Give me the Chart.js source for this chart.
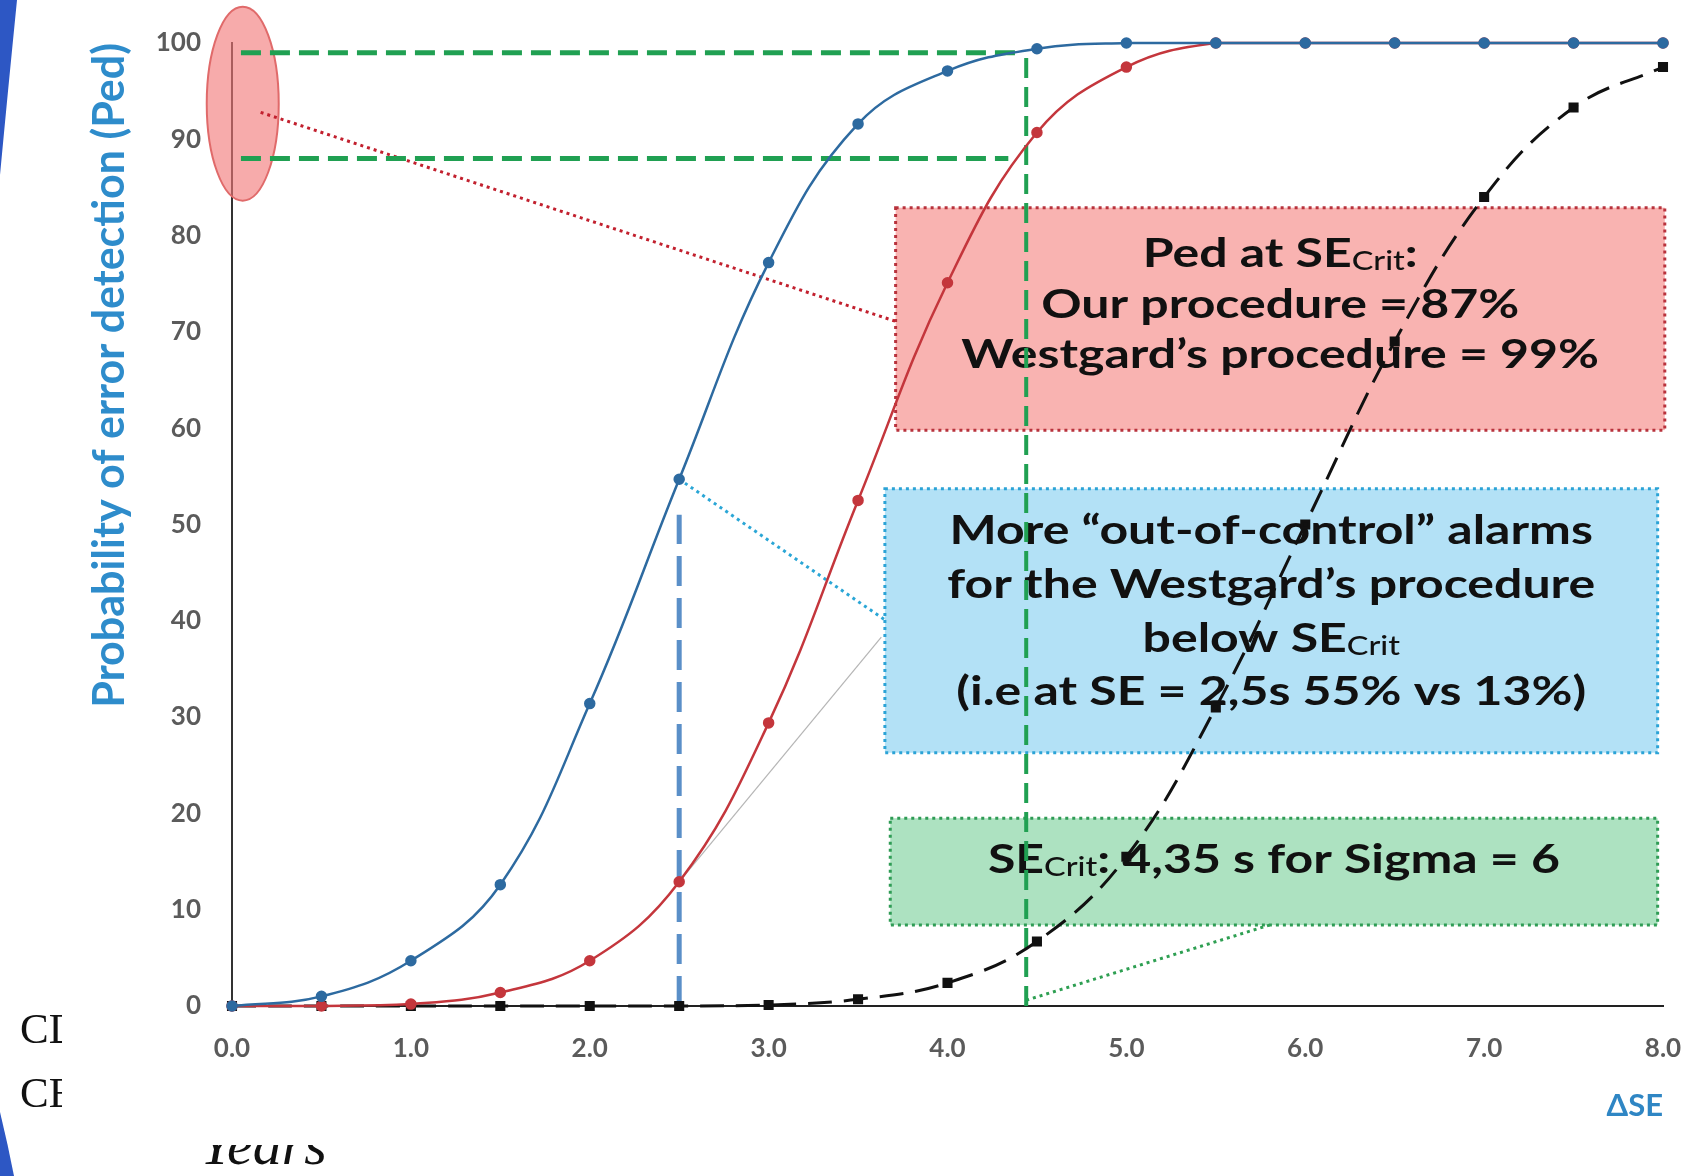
<!DOCTYPE html>
<html>
<head>
<meta charset="utf-8">
<title>Probability of error detection</title>
<script src="https://cdn.jsdelivr.net/npm/chart.js@4.4.1/dist/chart.umd.min.js"></script>
<style>
    html, body { margin: 0; padding: 0; background: #fff; }
    #pedChart { display: block; }
</style>
</head>
<body>
<canvas id="pedChart" width="1693" height="1176"></canvas>
<script>
// systematic error shift (in SD units) where each curve was computed
const shiftValues = [0, 0.5, 1.0, 1.5, 2.0, 2.5, 3.0, 3.5, 4.0, 4.5, 5.0, 5.5, 6.0, 6.5, 7.0, 7.5, 8.0];

// probability of error detection, %
const westgardPed = [0, 1.0, 4.7, 12.6, 31.4, 54.7, 77.2, 91.6, 97.1, 99.4, 100, 100, 100, 100, 100, 100, 100];
const ourPed      = [0, 0, 0.2, 1.4, 4.7, 12.9, 29.4, 52.5, 75.1, 90.7, 97.5, 100, 100, 100, 100, 100, 100];
const otherPed    = [0, 0, 0, 0, 0, 0, 0.1, 0.7, 2.4, 6.7, 15.5, 31, 50, 69, 84, 93.3, 97.5];

// guide lines at SE crit and at SE = 2.5
const critTopLine  = [[0.05, 99], [4.40, 99]];
const critLowLine  = [[0.05, 88], [4.34, 88]];
const critVertLine = [[4.44, 0], [4.44, 98.5]];
const exampleLine  = [[2.5, 0], [2.5, 51]];

// dotted pointers from the marks to the notes
const redPointer   = [[0.16, 92.8], [3.71, 71.1]];
const bluePointer  = [[2.5, 54.7], [3.65, 40.1]];
const greyPointer  = [[2.5, 12.9], [3.63, 38.3]];
const greenPointer = [[4.44, 0.6], [5.80, 8.4]];

const FONT = 'Lato';
const noteSize = 40;
const subSize = 26;
const noteStretch = 1.25;

function toPoints(xs, ys) {
    return xs.map((x, i) => ({ x: x, y: ys[i] }));
}

function toSegment(pairs) {
    return pairs.map(p => ({ x: p[0], y: p[1] }));
}

function guide(pairs, color, width, dash, order) {
    return {
        data: toSegment(pairs),
        showLine: true,
        borderColor: color,
        borderWidth: width,
        borderDash: dash,
        pointRadius: 0,
        tension: 0,
        fill: false,
        clip: false,
        order: order
    };
}

const notes = [
    {
        x0: 3.71, x1: 8.01, y0: 59.8, y1: 82.9,
        fill: '#f9b3b1', border: '#b8323c',
        lines: [
            { dy: 59, parts: [{ t: 'Ped at SE' }, { t: 'Crit', sub: true }, { t: ':' }] },
            { dy: 110, parts: [{ t: 'Our procedure = 87%' }] },
            { dy: 160, parts: [{ t: 'Westgard\u2019s procedure = 99%' }] }
        ]
    },
    {
        x0: 3.65, x1: 7.97, y0: 26.3, y1: 53.7,
        fill: '#b3e1f6', border: '#2ba3d6',
        lines: [
            { dy: 55, parts: [{ t: 'More \u201cout-of-control\u201d alarms' }] },
            { dy: 109, parts: [{ t: 'for the Westgard\u2019s procedure' }] },
            { dy: 163, parts: [{ t: 'below SE' }, { t: 'Crit', sub: true }] },
            { dy: 216, parts: [{ t: '(i.e at SE = 2,5s 55% vs 13%)' }] }
        ]
    },
    {
        x0: 3.68, x1: 7.97, y0: 8.4, y1: 19.5,
        fill: '#ade2c1', border: '#2f9c55',
        lines: [
            { dy: 55, parts: [{ t: 'SE' }, { t: 'Crit', sub: true }, { t: ': 4,35 s for Sigma = 6' }] }
        ]
    }
];

function drawLine(ctx, parts, cx, baseY) {
    let w = 0;
    parts.forEach(p => {
        ctx.font = p.sub ? `500 ${subSize}px ${FONT}` : `bold ${noteSize}px ${FONT}`;
        p.w = ctx.measureText(p.t).width;
        w += p.w;
    });
    ctx.save();
    ctx.translate(cx, baseY);
    ctx.scale(noteStretch, 1);
    let x = -w / 2;
    parts.forEach(p => {
        ctx.font = p.sub ? `500 ${subSize}px ${FONT}` : `bold ${noteSize}px ${FONT}`;
        ctx.fillText(p.t, x, p.sub ? 3 : 0);
        x += p.w;
    });
    ctx.restore();
}

const slideBits = {
    id: 'slideBits',
    beforeDraw(chart) {
        const ctx = chart.ctx;
        ctx.save();
        ctx.fillStyle = '#fff';
        ctx.fillRect(0, 0, chart.width, chart.height);

        // edge of the slide's blue arc
        ctx.fillStyle = '#2d57c4';
        ctx.beginPath();
        ctx.moveTo(0, 0);
        ctx.lineTo(17, 0);
        ctx.quadraticCurveTo(8, 90, 0, 175);
        ctx.closePath();
        ctx.fill();
        ctx.beginPath();
        ctx.moveTo(0, 1112);
        ctx.quadraticCurveTo(8, 1145, 14, 1176);
        ctx.lineTo(0, 1176);
        ctx.closePath();
        ctx.fill();

        // slide text hidden behind the chart picture
        ctx.fillStyle = '#111';
        ctx.save();
        ctx.beginPath();
        ctx.rect(0, 0, 62, chart.height);
        ctx.clip();
        ctx.font = '43px "Liberation Serif"';
        ctx.fillText('CD', 20, 1043);
        ctx.fillText('CE', 20, 1107);
        ctx.restore();

        ctx.save();
        ctx.beginPath();
        ctx.rect(0, 1145, chart.width, 40);
        ctx.clip();
        ctx.font = 'italic 58px "Liberation Serif"';
        ctx.fillText('Years', 200, 1164);
        ctx.restore();
        ctx.restore();
    },
    beforeDatasetsDraw(chart) {
        const ctx = chart.ctx;
        const xs = chart.scales.x;
        const ys = chart.scales.y;
        ctx.save();

        // highlight on the y axis
        const ex = xs.getPixelForValue(0.06);
        const ey = ys.getPixelForValue(93.7);
        ctx.beginPath();
        ctx.ellipse(ex, ey, 36, 97, 0, 0, Math.PI * 2);
        ctx.fillStyle = 'rgba(242, 120, 120, 0.62)';
        ctx.fill();
        ctx.lineWidth = 2;
        ctx.strokeStyle = '#e06a6a';
        ctx.stroke();

        notes.forEach(n => {
            const left = xs.getPixelForValue(n.x0);
            const right = xs.getPixelForValue(n.x1);
            const top = ys.getPixelForValue(n.y1);
            const bottom = ys.getPixelForValue(n.y0);
            ctx.fillStyle = n.fill;
            ctx.fillRect(left, top, right - left, bottom - top);
            ctx.setLineDash([3, 4]);
            ctx.lineWidth = 3;
            ctx.strokeStyle = n.border;
            ctx.strokeRect(left, top, right - left, bottom - top);
            ctx.setLineDash([]);

            ctx.fillStyle = '#111';
            ctx.textBaseline = 'alphabetic';
            ctx.textAlign = 'left';
            const cx = (left + right) / 2;
            n.lines.forEach(l => drawLine(ctx, l.parts, cx, top + l.dy));
        });
        ctx.restore();
    }
};

const tickFont = { family: FONT, weight: 'bold', size: 26 };

new Chart(document.getElementById('pedChart'), {
    type: 'scatter',
    data: {
        datasets: [
            {
                label: 'Westgard\u2019s procedure',
                data: toPoints(shiftValues, westgardPed),
                showLine: true,
                tension: 0.4,
                borderColor: '#2d6aa0',
                backgroundColor: '#2d6aa0',
                borderWidth: 2.5,
                pointRadius: 4.5,
                clip: false,
                order: 0
            },
            {
                label: 'Our procedure',
                data: toPoints(shiftValues, ourPed),
                showLine: true,
                tension: 0.4,
                borderColor: '#c4363c',
                backgroundColor: '#c4363c',
                borderWidth: 2.5,
                pointRadius: 4.5,
                clip: false,
                order: 1
            },
            {
                label: 'Other procedure',
                data: toPoints(shiftValues, otherPed),
                showLine: true,
                tension: 0.4,
                borderColor: '#111',
                backgroundColor: '#111',
                borderWidth: 3,
                borderDash: [24, 12],
                pointStyle: 'rect',
                pointRadius: 5,
                clip: false,
                order: 2
            },
            guide(exampleLine, '#5a8fc8', 5, [30, 12], 3),
            guide(critTopLine, '#20a052', 5, [20, 9], 4),
            guide(critLowLine, '#20a052', 5, [20, 9], 4),
            guide(critVertLine, '#20a052', 4, [20, 9], 4),
            guide(redPointer, '#c2202e', 3, [3, 4], 5),
            guide(bluePointer, '#2aa6d6', 3, [3, 4], 5),
            guide(greyPointer, '#b5b5b5', 1.2, [], 5),
            guide(greenPointer, '#2e9f52', 3, [3, 4], 5)
        ]
    },
    options: {
        responsive: false,
        animation: false,
        events: [],
        layout: { padding: { top: 43, right: 30, left: 0, bottom: 0 } },
        plugins: {
            legend: { display: false },
            tooltip: { enabled: false }
        },
        scales: {
            x: {
                type: 'linear',
                min: 0,
                max: 8,
                afterFit: s => {
                    s.height = 170;
                    s.paddingLeft = 0;
                    s.paddingRight = 0;
                },
                grid: { display: false, drawTicks: false },
                border: { display: true, color: '#222', width: 2 },
                ticks: {
                    stepSize: 1,
                    padding: 27,
                    color: '#5b5b5b',
                    font: tickFont,
                    callback: v => v.toFixed(1)
                },
                title: {
                    display: true,
                    text: '\u0394SE',
                    align: 'end',
                    color: '#2f86c4',
                    font: { family: FONT, weight: 'bold', size: 31 },
                    padding: { top: 0, bottom: 51 }
                }
            },
            y: {
                min: 0,
                max: 100,
                afterFit: s => {
                    s.width = 232;
                    s.paddingTop = 0;
                    s.paddingBottom = 0;
                },
                grid: { display: false, drawTicks: false },
                border: { display: true, color: '#333', width: 2 },
                ticks: {
                    stepSize: 10,
                    padding: 31,
                    autoSkip: false,
                    color: '#5b5b5b',
                    font: tickFont
                },
                title: {
                    display: true,
                    text: 'Probability of error detection (Ped)',
                    align: 'end',
                    color: '#2e8ccb',
                    font: { family: FONT, weight: 'bold', size: 43 },
                    padding: { top: 84, bottom: 0 }
                }
            }
        }
    },
    plugins: [slideBits]
});
</script>
</body>
</html>
